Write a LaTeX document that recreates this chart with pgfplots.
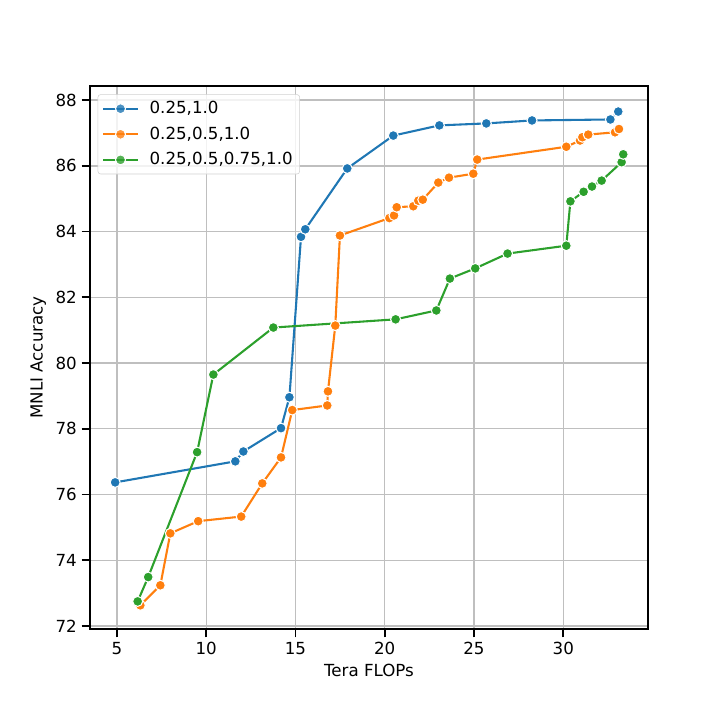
\documentclass[border=0pt]{standalone}
\usepackage{fontspec}
\setmainfont{DejaVu Sans}
\usepackage{pgfplots}
\pgfplotsset{compat=1.18}
\definecolor{tblue}{HTML}{1F77B4}
\definecolor{torange}{HTML}{FF7F0E}
\definecolor{tgreen}{HTML}{2CA02C}
\begin{document}
\begin{tikzpicture}
\path[use as bounding box] (-64.8pt,-65.52pt) rectangle (453.6pt,452.88pt);
\begin{axis}[
  at={(0,0)}, anchor=south west,
  scale only axis, width=401.8pt, height=391pt,
  xmin=3.49, xmax=34.75, ymin=71.91, ymax=88.43,
  xtick={5,10,15,20,25,30}, ytick={72,74,76,78,80,82,84,86,88},
  /pgf/number format/assume math mode=true,
  tick label style={font=\fontsize{12}{14}\selectfont},
  label style={font=\fontsize{12}{14}\selectfont},
  xlabel={Tera FLOPs}, ylabel={MNLI Accuracy},
  tick pos=left, tick align=outside, major tick length=6pt,
  tick style={black, line width=1.25pt},
  axis line style={line width=1.25pt},
  grid=major, major grid style={color=black!25, line width=1pt},
  every axis plot/.append style={line width=1.5pt, mark=*, mark size=3.6pt},
  legend cell align=left,
  legend style={at={(rel axis cs:0,1)}, anchor=north west, xshift=5.5pt, yshift=-6pt,
    draw=black!18, rounded corners=2pt, fill=white, fill opacity=0.8, text opacity=1,
    font=\fontsize{12}{14}\selectfont, row sep=4pt, inner sep=3pt},
  legend image code/.code={\draw[mark repeat=2,mark phase=2] plot coordinates {(0cm,0cm)(0.44cm,0cm)(0.88cm,0cm)}; \path (1.08cm,0cm);},
]
\addplot[color=tblue, mark options={fill=tblue, draw=white, line width=0.75pt}] coordinates {
(4.90,76.37) (11.63,77.01) (12.08,77.31) (14.19,78.02) (14.66,78.96) (15.31,83.84) (15.55,84.07) (17.90,85.92) (20.48,86.92) (23.06,87.23) (25.69,87.29) (28.25,87.38) (32.64,87.41) (33.08,87.65)};
\addlegendentry{0.25,1.0}
\addplot[color=torange, mark options={fill=torange, draw=white, line width=0.75pt}] coordinates {
(6.31,72.63) (7.43,73.24) (7.99,74.82) (9.55,75.19) (11.96,75.33) (13.14,76.34) (14.19,77.13) (14.82,78.57) (16.78,78.71) (16.82,79.14) (17.23,81.14) (17.49,83.88) (20.26,84.41) (20.52,84.49) (20.67,84.74) (21.60,84.77) (21.88,84.94) (22.13,84.97) (23.00,85.49) (23.60,85.64) (24.96,85.76) (25.18,86.19) (30.17,86.58) (30.94,86.77) (31.07,86.87) (31.40,86.95) (32.90,87.02) (33.12,87.12)};
\addlegendentry{0.25,0.5,1.0}
\addplot[color=tgreen, mark options={fill=tgreen, draw=white, line width=0.75pt}] coordinates {
(6.16,72.75) (6.75,73.49) (9.49,77.29) (10.40,79.65) (13.76,81.08) (20.61,81.33) (22.89,81.60) (23.65,82.57) (25.07,82.88) (26.88,83.33) (30.17,83.57) (30.40,84.92) (31.14,85.21) (31.61,85.37) (32.15,85.55) (33.27,86.11) (33.36,86.35)};
\addlegendentry{0.25,0.5,0.75,1.0}
\end{axis}
\end{tikzpicture}
\end{document}
